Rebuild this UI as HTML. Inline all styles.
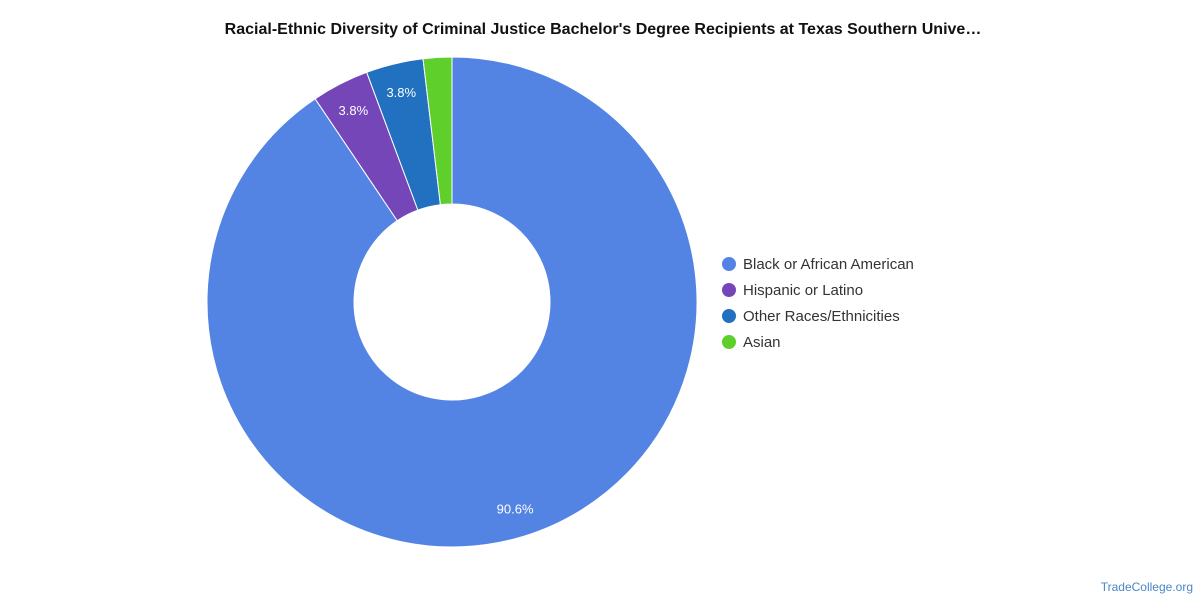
<!DOCTYPE html>
<html><head><meta charset="utf-8"><style>
body{margin:0;background:#fff;font-family:"Liberation Sans",sans-serif;}
#wrap{position:relative;width:1200px;height:600px;overflow:hidden;}
</style></head><body>
<div id="wrap">
<svg id="svg" width="1200" height="600">
<text x="603" y="34" text-anchor="middle" font-size="16" font-weight="bold" fill="#111">Racial-Ethnic Diversity of Criminal Justice Bachelor's Degree Recipients at Texas Southern Unive…</text>
<g id="slices"></g>
<g id="legend"></g>
<text x="1193" y="591" text-anchor="end" font-size="12" fill="#4a86c8">TradeCollege.org</text>
</svg>
</div>
<script>
const categories=["Black or African American","Hispanic or Latino","Other Races/Ethnicities","Asian"];
const values=[48,2,2,1];
const colors=["#5484e3","#7546b8","#2270c0","#5ecf2b"];
const NS="http://www.w3.org/2000/svg";
const cx=452,cy=302,R=245,r=98,LR=216;
const total=values.reduce((a,b)=>a+b,0);
const g=document.getElementById('slices');
function pt(a,rad){return [cx+rad*Math.sin(a),cy-rad*Math.cos(a)];}
let start=0;
values.forEach((v,i)=>{
  const sw=v/total*2*Math.PI,end=start+sw,large=sw>Math.PI?1:0;
  const [x1,y1]=pt(start,R),[x2,y2]=pt(end,R),[x3,y3]=pt(end,r),[x4,y4]=pt(start,r);
  const p=document.createElementNS(NS,'path');
  p.setAttribute('d',`M${x1},${y1}A${R},${R} 0 ${large} 1 ${x2},${y2}L${x3},${y3}A${r},${r} 0 ${large} 0 ${x4},${y4}Z`);
  p.setAttribute('fill',colors[i]);p.setAttribute('stroke','#fff');p.setAttribute('stroke-width','1');
  
  
  g.appendChild(p);
  const pct=v/total*100;
  if(pct>3){
    const [lx,ly]=pt(start+sw/2,LR);
    const t=document.createElementNS(NS,'text');
    t.setAttribute('x',lx);t.setAttribute('y',ly+5);t.setAttribute('text-anchor','middle');
    t.setAttribute('font-size','13');t.setAttribute('fill','#fff');
    t.textContent=pct.toFixed(1)+'%';
    
    
    g.appendChild(t);
  }
  start=end;
});
const lg=document.getElementById('legend');
categories.forEach((c,i)=>{
  const y=264+i*26;
  const e=document.createElementNS(NS,'g');
  
  
  const ci=document.createElementNS(NS,'circle');
  ci.setAttribute('cx',729);ci.setAttribute('cy',y);ci.setAttribute('r',7);ci.setAttribute('fill',colors[i]);
  const t=document.createElementNS(NS,'text');
  t.setAttribute('x',743);t.setAttribute('y',y+5);t.setAttribute('font-size','15');t.setAttribute('fill','#333');
  t.textContent=c;
  e.appendChild(ci);e.appendChild(t);lg.appendChild(e);
});
</script>
</body></html>
